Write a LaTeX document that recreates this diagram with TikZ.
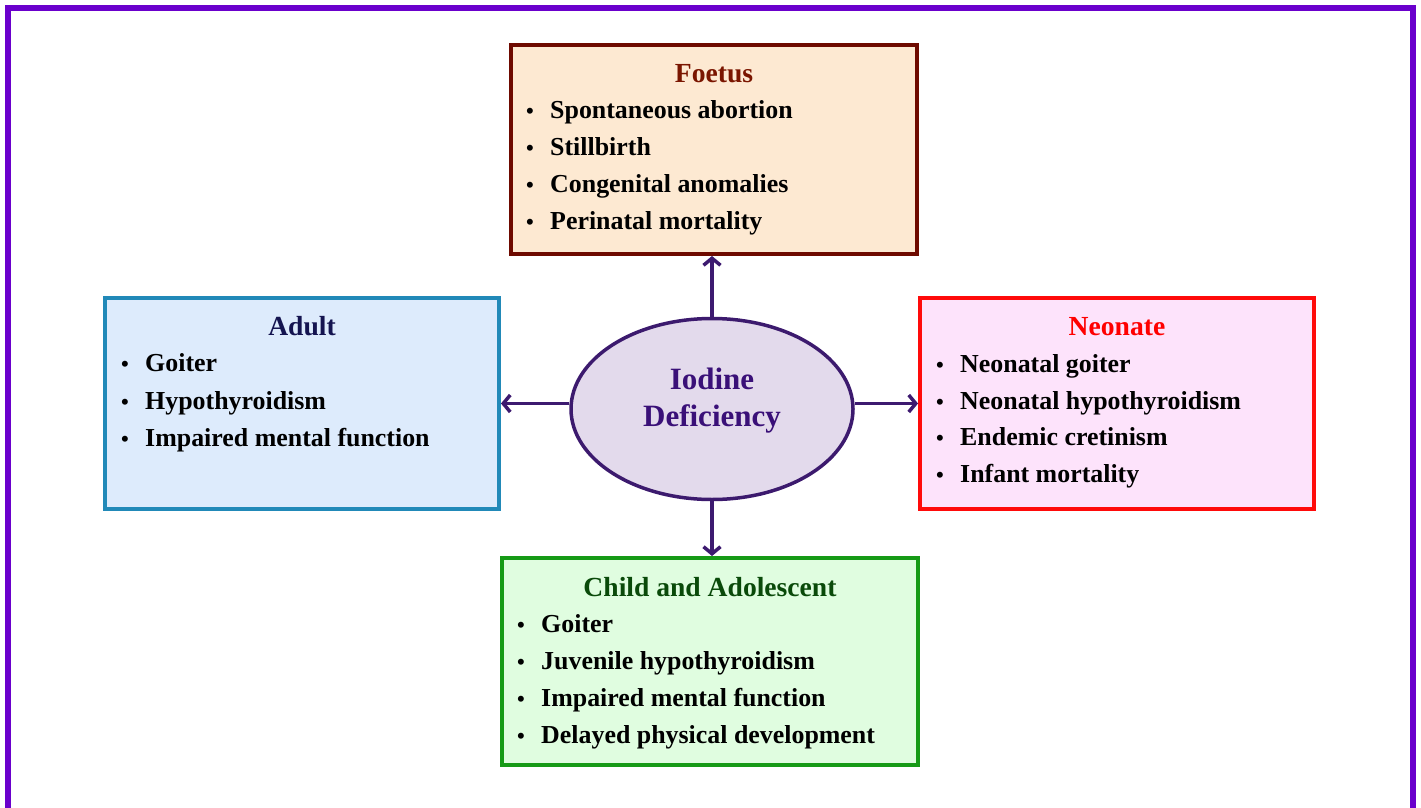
\documentclass[tikz,border=0pt]{standalone}
\usepackage{fontspec}
\setmainfont{Liberation Serif}
\usetikzlibrary{shapes.geometric,arrows.meta}
\definecolor{framecol}{HTML}{6A00CC}
\definecolor{arrowcol}{HTML}{3D1A70}
\definecolor{fFill}{HTML}{FDE9D2}\definecolor{fDraw}{HTML}{6E0A00}\definecolor{fTitle}{HTML}{7A1500}
\definecolor{aFill}{HTML}{DDEBFC}\definecolor{aDraw}{HTML}{2189B8}\definecolor{aTitle}{HTML}{141450}
\definecolor{nFill}{HTML}{FDE3FB}\definecolor{nDraw}{HTML}{FF0A0A}\definecolor{nTitle}{HTML}{FF0000}
\definecolor{cFill}{HTML}{E0FDE0}\definecolor{cDraw}{HTML}{169A16}\definecolor{cTitle}{HTML}{0A4A0A}
\definecolor{eFill}{HTML}{E3DAEC}\definecolor{eDraw}{HTML}{3C1A6E}\definecolor{eText}{HTML}{3A1078}
\newcommand{\bitem}[1]{\makebox[25pt][l]{\hspace{1pt}\fontsize{22}{28}\selectfont\bfseries•}#1}
\begin{document}
\begin{tikzpicture}[x=1pt,y=-1pt,
  groupbox/.style={draw, line width=4pt, rectangle, inner sep=0pt},
  titletext/.style={anchor=base, inner sep=0pt, font=\fontsize{27.6}{32}\selectfont\bfseries},
  itemtext/.style={anchor=base west, inner sep=0pt, font=\fontsize{25.9}{30}\selectfont\bfseries},
  linkarrow/.style={draw=arrowcol, line width=3.5pt, -{Straight Barb[length=7pt,width=17pt]}}
]
\useasboundingbox (0,0) rectangle (1421,808);
\draw[framecol, line width=6pt] (8,812) -- (8,8) -- (1413,8) -- (1413,812);

% boxes
\node[groupbox, draw=fDraw, fill=fFill, minimum width=406pt, minimum height=209pt] (foetus) at (714,149.5) {};
\node[groupbox, draw=aDraw, fill=aFill, minimum width=394pt, minimum height=211pt] (adult) at (302,403.5) {};
\node[groupbox, draw=nDraw, fill=nFill, minimum width=394pt, minimum height=211pt] (neonate) at (1117,403.5) {};
\node[groupbox, draw=cDraw, fill=cFill, minimum width=416pt, minimum height=207pt] (child) at (710,661.5) {};

% ellipse
\node[ellipse, draw=eDraw, fill=eFill, line width=3.5pt, minimum width=282pt, minimum height=181pt, inner sep=0pt] (iod) at (712,409) {};
\node[text=eText, align=center, inner sep=0pt, font=\fontsize{31}{37}\selectfont\bfseries] (iodtext) at (712,401) {Iodine\\Deficiency};

% titles
\node[titletext, text=fTitle] (ftitle) at (714,82) {Foetus};
\node[titletext, text=aTitle] (atitle) at (302,335) {Adult};
\node[titletext, text=nTitle] (ntitle) at (1117,335) {Neonate};
\node[titletext, text=cTitle] (ctitle) at (710,596) {Child and Adolescent};

% items
\node[itemtext] (f1) at (525,118) {\bitem{Spontaneous abortion}};
\node[itemtext] (f2) at (525,155) {\bitem{Stillbirth}};
\node[itemtext] (f3) at (525,192) {\bitem{Congenital anomalies}};
\node[itemtext] (f4) at (525,229) {\bitem{Perinatal mortality}};

\node[itemtext] (a1) at (120,371) {\bitem{Goiter}};
\node[itemtext] (a2) at (120,409) {\bitem{Hypothyroidism}};
\node[itemtext] (a3) at (120,446) {\bitem{Impaired mental function}};

\node[itemtext] (n1) at (935,372) {\bitem{Neonatal goiter}};
\node[itemtext] (n2) at (935,409) {\bitem{Neonatal hypothyroidism}};
\node[itemtext] (n3) at (935,445) {\bitem{Endemic cretinism}};
\node[itemtext] (n4) at (935,482) {\bitem{Infant mortality}};

\node[itemtext] (c1) at (516,632) {\bitem{Goiter}};
\node[itemtext] (c2) at (516,669) {\bitem{Juvenile hypothyroidism}};
\node[itemtext] (c3) at (516,706) {\bitem{Impaired mental function}};
\node[itemtext] (c4) at (516,743) {\bitem{Delayed physical development}};

% arrows
\draw[linkarrow] (iod.north) -- (iod.north |- foetus.south);
\draw[linkarrow] (iod.south) -- (iod.south |- child.north);
\draw[linkarrow] (iod.west |- adult.east) -- (adult.east);
\draw[linkarrow] (iod.east |- neonate.west) -- (neonate.west);
\end{tikzpicture}
\end{document}
